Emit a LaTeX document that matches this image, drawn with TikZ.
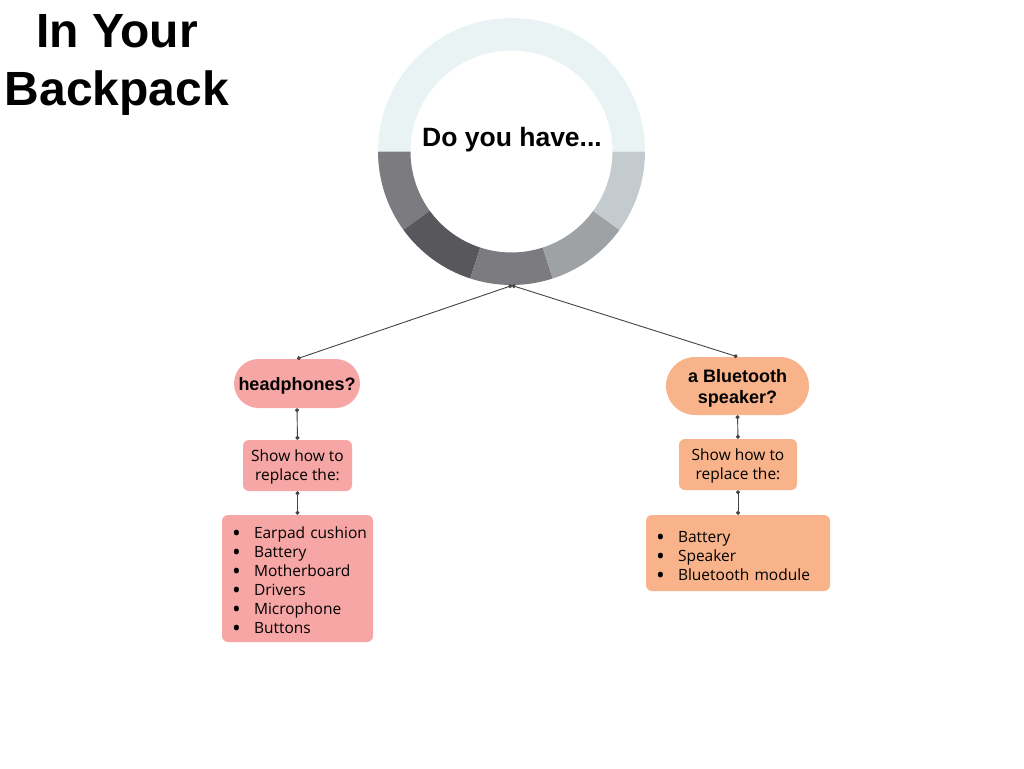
\documentclass[tikz,border=0pt]{standalone}
\usepackage{fontspec}
\setmainfont{Open Sans}
\newfontfamily\headfont{Liberation Sans}
\usetikzlibrary{calc,arrows.meta}
\definecolor{ringtop}{HTML}{E9F3F4}
\definecolor{segA}{HTML}{7C7B80}
\definecolor{segB}{HTML}{58575C}
\definecolor{segC}{HTML}{7B7B80}
\definecolor{segD}{HTML}{9EA2A5}
\definecolor{segE}{HTML}{C3CBCE}
\definecolor{pinkc}{HTML}{F7A6A6}
\definecolor{orangec}{HTML}{F9B38A}
\definecolor{linec}{HTML}{444444}
\tikzset{
  pill/.style={inner sep=0pt, align=center, text depth=0pt, font=\headfont\bfseries\fontsize{18}{21}\selectfont},
  showbox/.style={rounded corners=6pt, inner sep=0pt, align=center, text depth=0pt, font=\fontsize{15.5}{19}\selectfont},
  listbox/.style={rounded corners=6pt, inner xsep=6pt, inner ysep=0pt, align=left, font=\fontsize{15.5}{19}\selectfont},
  conn/.style={draw=linec, line width=0.9pt, {Circle[length=4pt]}-{Circle[length=4pt]}},
}
\newcommand{\itm}[1]{\makebox[26pt][l]{\hspace{4pt}\raisebox{-0.3ex}{\scalebox{1.5}{\textbullet}}}#1}
\newcommand{\ringseg}[3]{%
  \fill[#3] ($(c)+(#1:133.5pt)$) arc[start angle=#1, end angle=#2, radius=133.5pt]
    -- ($(c)+(#2:101pt)$) arc[start angle=#2, end angle=#1, radius=101pt] -- cycle;}
\begin{document}
\begin{tikzpicture}[x=1pt,y=-1pt]
\useasboundingbox[fill=white] (0,0) rectangle (1024,768);
% title
\node[align=center, anchor=base, inner sep=0pt, font=\headfont\bfseries\fontsize{48}{58}\selectfont] (title) at (117,105) {In Your\\Backpack};
% ring
\coordinate (c) at (511.5,151.5);
\ringseg{0}{180}{ringtop}
\ringseg{180}{216}{segA}
\ringseg{216}{252}{segB}
\ringseg{252}{288}{segC}
\ringseg{288}{324}{segD}
\ringseg{324}{360}{segE}
\node[inner sep=0pt, font=\headfont\bfseries\fontsize{26.5}{30}\selectfont] (q) at (512,140) {Do you have...};
\coordinate (hub) at (512,285.5);
% left branch
\node[pill, fill=pinkc, rounded corners=24.5pt, minimum width=126pt, minimum height=49pt] (hp) at (297,383.5) {headphones?};
\node[showbox, fill=pinkc, minimum width=109pt, minimum height=51pt] (s1) at (297.5,465.5) {Show how to\\replace the:};
\node[listbox, fill=pinkc, text width=139pt, text depth=91pt, minimum height=127pt] (l1) at (297.5,578.5)
  {\itm{Earpad cushion}\\\itm{Battery}\\\itm{Motherboard}\\\itm{Drivers}\\\itm{Microphone}\\\itm{Buttons}};
% right branch
\node[pill, fill=orangec, rounded corners=29pt, minimum width=143pt, minimum height=58pt] (bt) at (737.5,386) {a Bluetooth\\speaker?};
\node[showbox, fill=orangec, minimum width=118pt, minimum height=51pt] (s2) at (738,464.5) {Show how to\\replace the:};
\node[listbox, fill=orangec, text width=172pt, text depth=32pt, minimum height=76pt] (l2) at (738,553)
  {\itm{Battery}\\\itm{Speaker}\\\itm{Bluetooth module}};
% connectors
\draw[conn] (hub) -- (hp.north);
\draw[conn] (hub) -- (bt.north);
\draw[conn] (hp.south) -- (s1.north);
\draw[conn] (s1.south) -- (l1.north);
\draw[conn] (bt.south) -- (s2.north);
\draw[conn] (s2.south) -- (l2.north);
\end{tikzpicture}
\end{document}
